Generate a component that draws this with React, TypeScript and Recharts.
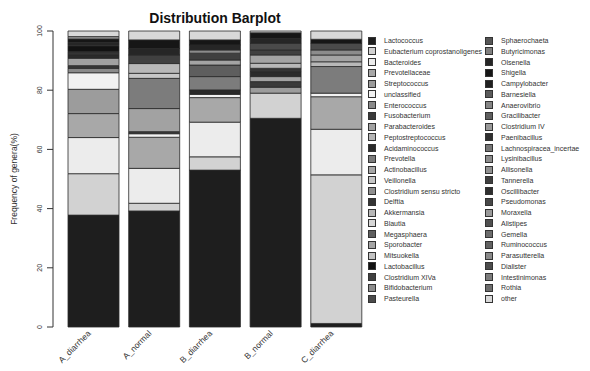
import { BarChart, Bar, XAxis, YAxis } from "recharts";

const samples = ["A_diarrhea", "A_normal", "B_diarrhea", "B_normal", "C_diarrhea"];

const genera = [
  "Lactococcus", "Eubacterium coprostanoligenes", "Bacteroides", "Prevotellaceae", "Streptococcus",
  "unclassified", "Enterococcus", "Fusobacterium", "Parabacteroides", "Peptostreptococcus",
  "Acidaminococcus", "Prevotella", "Actinobacillus", "Veillonella", "Clostridium sensu stricto",
  "Delftia", "Akkermansia", "Blautia", "Megasphaera", "Sporobacter",
  "Mitsuokella", "Lactobacillus", "Clostridium XIVa", "Bifidobacterium", "Pasteurella",
  "Sphaerochaeta", "Butyricimonas", "Olsenella", "Shigella", "Campylobacter",
  "Barnesiella", "Anaerovibrio", "Gracilibacter", "Clostridium IV", "Paenibacillus",
  "Lachnospiracea_incertae", "Lysinibacillus", "Allisonella", "Tannerella", "Oscillibacter",
  "Pseudomonas", "Moraxella", "Alistipes", "Gemella", "Ruminococcus",
  "Parasutterella", "Dialister", "Intestinimonas", "Rothia", "other",
];

// gray palette, one per genus
const grays = [
  "#1e1e1e", "#d2d2d2", "#ececec", "#a8a8a8", "#9c9c9c",
  "#f2f2f2", "#8a8a8a", "#3a3a3a", "#a2a2a2", "#b4b4b4",
  "#2a2a2a", "#7c7c7c", "#a6a6a6", "#c6c6c6", "#8f8f8f",
  "#343434", "#b8b8b8", "#d6d6d6", "#5e5e5e", "#a4a4a4",
  "#c2c2c2", "#121212", "#404040", "#8c8c8c", "#4a4a4a",
  "#555555", "#7f7f7f", "#262626", "#161616", "#202020",
  "#5a5a5a", "#858585", "#5f5f5f", "#999999", "#303030",
  "#777777", "#8c8c8c", "#909090", "#3f3f3f", "#2f2f2f",
  "#484848", "#9a9a9a", "#505050", "#6c6c6c", "#626262",
  "#8a8a8a", "#4d4d4d", "#7c7c7c", "#6e6e6e", "#d8d8d8",
];

// relative frequency (%) of each genus, same order as genera
const aDiarrhea = [
  37.8, 14.0, 12.2, 8.1, 8.2, 5.6, 1.5, 0.9, 2.5, 0,
  1.1, 0, 0, 0, 0, 1.1, 0, 0, 0, 0,
  0, 2.0, 0, 0, 0, 0, 0, 1.0, 1.3, 0,
  0, 0, 0, 0, 0, 0, 0, 0, 0, 0,
  0, 0.8, 0, 0, 0, 0, 0, 0, 0, 1.9,
];
const aNormal = [
  39.2, 2.6, 11.8, 10.5, 0, 1.2, 0, 0.7, 7.8, 0,
  0, 10.2, 0, 1.7, 0, 0, 3.3, 0, 0, 0,
  0, 0, 2.9, 0, 0, 0, 0, 2.2, 2.9, 0,
  0, 0, 0, 0, 0, 0, 0, 0, 0, 0,
  0, 0, 0, 0, 0, 0, 0, 0, 0, 3.0,
];
const bDiarrhea = [
  53.0, 4.5, 11.7, 8.3, 0, 1.1, 0, 0, 0, 0,
  1.5, 4.5, 0, 0, 0, 0, 0, 0, 3.9, 1.7,
  0, 0, 2.3, 1.1, 0, 0, 0, 1.7, 1.7, 0,
  0, 0, 0, 0, 0, 0, 0, 0, 0, 0,
  0, 0, 0, 0, 0, 0, 0, 0, 0, 3.0,
];
const bNormal = [
  70.5, 8.5, 0, 0, 2.0, 0, 0, 1.9, 1.7, 0,
  1.7, 0, 0, 0, 0, 1.1, 1.7, 0, 0, 2.8,
  0, 0, 1.7, 0, 2.2, 0, 0, 1.7, 1.9, 0,
  0, 0, 0, 0, 0, 0, 0, 0, 0, 0,
  0, 0, 0, 0, 0, 0, 0, 0, 0, 0.6,
];
const cDiarrhea = [
  1.2, 50.2, 15.4, 11.0, 0, 1.2, 0, 0, 0, 0,
  0, 9.0, 0, 0, 0, 0, 1.6, 0, 0, 2.3,
  0, 0, 0, 1.7, 2.2, 0, 0, 0, 1.4, 0,
  0, 0, 0, 0, 0, 0, 0, 0, 0, 0,
  0, 0, 0, 0, 0, 0, 0, 0, 0, 2.8,
];

const yTicks = [0, 20, 40, 60, 80, 100];

const sampleValues = [aDiarrhea, aNormal, bDiarrhea, bNormal, cDiarrhea];
const data = samples.map((s, i) => {
  const row: Record<string, number | string> = { sample: s };
  genera.forEach((g, j) => (row[g] = sampleValues[i][j]));
  return row;
});

const FONT = "'Liberation Sans', Arial, sans-serif";

function XTick({ x, y, payload }: any) {
  const tx = x - 2;
  const ty = y + 7;
  return (
    <text x={tx} y={ty} transform={`rotate(-45 ${tx} ${ty})`} textAnchor="end" fontSize={8.5} fill="#333" fontFamily={FONT}>
      {payload.value}
    </text>
  );
}

function YTick({ x, y, payload }: any) {
  return (
    <text x={x - 1} y={y} transform={`rotate(-90 ${x - 1} ${y})`} textAnchor="middle" fontSize={7} fill="#333" fontFamily={FONT}>
      {payload.value}
    </text>
  );
}

function YLabel({ viewBox }: any) {
  const x = viewBox.x - 11;
  const y = viewBox.y + viewBox.height / 2;
  return (
    <text x={x} y={y} transform={`rotate(-90 ${x} ${y})`} textAnchor="middle" fontSize={8.5} fill="#333" fontFamily={FONT}>
      Frequency of genera(%)
    </text>
  );
}

export default function App() {
  const half = Math.ceil(genera.length / 2);
  return (
    <div style={{ position: "absolute", left: 0, top: 0, width: 590, height: 371, background: "#fff", fontFamily: FONT }}>
      <div style={{ position: "absolute", left: 115, top: 11, width: 200, textAlign: "center", fontSize: 14, fontWeight: "bold", lineHeight: "14px", color: "#111" }}>
        Distribution Barplot
      </div>
      <BarChart width={590} height={371} data={data} margin={{ top: 31, right: 223.5, bottom: 14, left: 28 }}>
        <XAxis dataKey="sample" height={30} axisLine={false} tickLine={false} tickSize={0} tickMargin={0} interval={0} padding={{ left: 10, right: 0 }} tick={<XTick />} />
        <YAxis
          domain={[0, 100]}
          ticks={yTicks}
          width={25}
          tickSize={6}
          tickMargin={4}
          axisLine={{ stroke: "#333" }}
          tickLine={{ stroke: "#333" }}
          tick={<YTick />}
          label={{ content: <YLabel /> }}
        />
        {genera.map((g, i) => (
          <Bar key={g} dataKey={g} stackId="a" fill={grays[i]} stroke="#2a2a2a" strokeWidth={0.8} barSize={51} isAnimationActive={false} />
        ))}
      </BarChart>
      {genera.map((g, i) => {
        const col = i < half ? 0 : 1;
        const row = col === 0 ? i : i - half;
        const top = 36 + row * 10.75;
        const left = col === 0 ? 368 : 485;
        return (
          <div key={g} style={{ position: "absolute", left, top, height: 9, display: "flex", alignItems: "center", whiteSpace: "nowrap" }}>
            <div style={{ width: 6, height: 6, background: grays[i], border: "1px solid #333", marginRight: 8 }} />
            <span style={{ fontSize: 7, color: "#333" }}>{g}</span>
          </div>
        );
      })}
    </div>
  );
}
